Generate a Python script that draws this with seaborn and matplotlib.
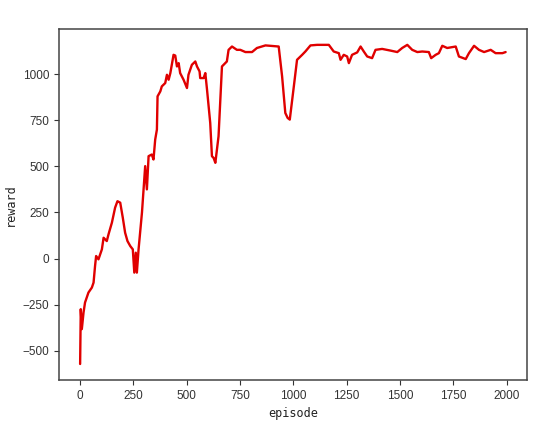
import pandas as pd
import matplotlib.pyplot as plt
import seaborn as sns

# values
episode = [0, 3, 8, 16, 23, 39, 55, 63, 70, 75, 86, 102, 110, 125, 133, 149, 164, 175,
           188, 200, 211, 222, 235, 247, 254, 261, 266, 274, 290, 305, 313, 321, 336,
           344, 352, 360, 363, 376, 383, 399, 407, 415, 423, 438, 446, 454, 462, 469, 485,
           501, 508, 524, 540, 548, 560, 563, 579, 587, 595, 610, 618, 626, 634, 649, 665,
           688, 696, 712, 735, 751, 775, 806, 829, 869, 931, 947, 962, 973, 983, 1002,
           1017, 1041, 1056, 1080, 1111, 1166, 1189, 1213, 1221, 1236, 1252, 1260, 1275,
           1299, 1315, 1330, 1346, 1369, 1385, 1416, 1455, 1487, 1510, 1534, 1557, 1581,
           1604, 1635, 1646, 1667, 1682, 1698, 1721, 1761, 1776, 1808, 1823, 1847, 1870,
           1894, 1925, 1948, 1980, 1995]
reward = [-571, -274, -382, -292, -238, -184, -157, -130, -40, 14, -4, 50, 113, 95, 131,
          195, 276, 311, 303, 222, 140, 95, 68, 50, -76, 32, -76, 50, 250, 501, 375, 555,
          564, 537, 645, 699, 879, 906, 933, 951, 996, 969, 1005, 1104, 1100, 1041, 1059,
          1005, 969, 924, 996, 1050, 1068, 1041, 1014, 978, 978, 1005, 915, 735, 555, 545,
          519, 663, 1041, 1068, 1131, 1149, 1131, 1131, 1119, 1119, 1141, 1155, 1149, 987,
          789, 762, 753, 933, 1077, 1104, 1122, 1155, 1158, 1158, 1122, 1113, 1077, 1104,
          1095, 1059, 1104, 1117, 1149, 1122, 1095, 1086, 1131, 1136, 1127, 1119, 1141,
          1158, 1131, 1119, 1122, 1119, 1086, 1104, 1113, 1153, 1141, 1149, 1095, 1081,
          1113, 1153, 1131, 1119, 1131, 1113, 1113, 1119]

df = pd.DataFrame({'episode': episode, 'reward': reward})

sns.set_style('ticks')
plt.rcParams['font.family'] = ['Liberation Sans', 'DejaVu Sans']

fig = plt.figure(figsize=(5.5, 4.25), dpi=100)
ax = fig.add_axes([0.107, 0.106, 0.851, 0.826])

sns.lineplot(data=df, x='episode', y='reward', color='#e00000', linewidth=1.7,
             estimator=None, sort=False, ax=ax)

ax.set_xticks([0, 250, 500, 750, 1000, 1250, 1500, 1750, 2000])
ax.set_yticks([-500, -250, 0, 250, 500, 750, 1000])
ax.tick_params(labelsize=8.5, colors='#333333', length=3.5, width=0.8)
for s in ax.spines.values():
    s.set_color('#444444')
    s.set_linewidth(1.1)

ax.set_xlabel('episode', family='DejaVu Sans Mono', fontsize=8.5, color='#222222')
ax.set_ylabel('reward', family='DejaVu Sans Mono', fontsize=8.5, color='#222222')

fig.savefig('out.png', dpi=100)
